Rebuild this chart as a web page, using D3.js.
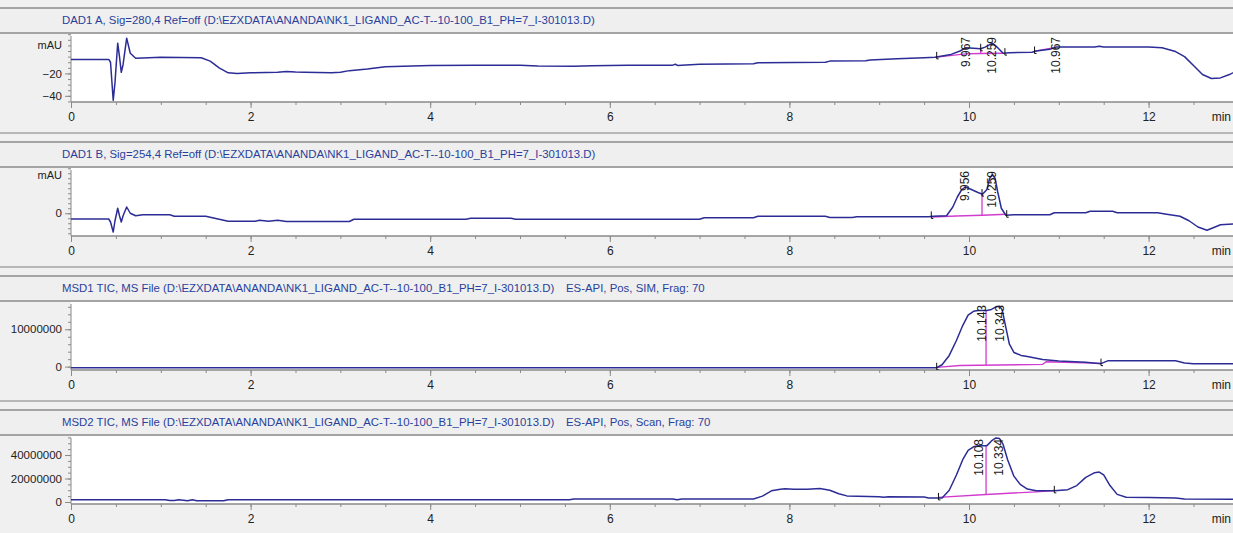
<!DOCTYPE html>
<html>
<head>
<meta charset="utf-8">
<script src="https://cdn.jsdelivr.net/npm/d3@7"></script>
<style>
  html, body { margin: 0; padding: 0; background: #f0f0f0; }
  svg { display: block; font-family: "Liberation Sans", Arial, sans-serif; }
</style>
</head>
<body>
<svg id="chart" width="1233" height="533"></svg>
<script>
// ---- Run information ----
const fileName = "D:\\EZXDATA\\ANANDA\\NK1_LIGAND_AC-T--10-100_B1_PH=7_I-301013.D";
const titles = [
  "DAD1 A, Sig=280,4 Ref=off (" + fileName + ")",
  "DAD1 B, Sig=254,4 Ref=off (" + fileName + ")",
  "MSD1 TIC, MS File (" + fileName + ")",
  "MSD2 TIC, MS File (" + fileName + ")"
];
const titleSuffixes = ["", "", "ES-API, Pos, SIM, Frag: 70", "ES-API, Pos, Scan, Frag: 70"];

// ---- Time axis (min) ----
const timeMajorTicks = [0, 2, 4, 6, 8, 10, 12];
const timeMinorStep = 0.5;

// ---- DAD1 A, 280 nm (mAU) ----
const dadATime = [0, 0.42, 0.44, 0.47, 0.49, 0.52, 0.54, 0.56, 0.58, 0.62, 0.66, 0.72, 0.8, 1.0, 1.45, 1.55, 1.65, 1.75, 1.85,
  2.0, 2.3, 2.4, 2.5, 2.6, 2.9, 3.0, 3.1, 3.3, 3.5, 4.0, 4.5, 5.0, 5.2, 5.6, 5.8, 6.2, 6.7, 6.73, 6.76, 6.8, 7.0, 7.6, 7.65,
  8.4, 8.45, 8.85, 8.9, 9.2, 9.5, 9.62, 9.8, 9.9, 9.967, 10.05, 10.13, 10.18, 10.26, 10.32, 10.38, 10.45, 10.7, 10.75, 10.9,
  10.97, 11.1, 11.4, 11.45, 11.5, 12.0, 12.15, 12.3, 12.4, 12.5, 12.6, 12.7, 12.8, 12.9, 13.0, 13.2];
const dadAValue = [-7.5, -7.5, -10, -44, -28, 7, -5, -19, -12, 11.5, -2, -6.5, -6.2, -5.6, -6.0, -9, -15, -19.5, -20,
  -19.5, -19, -18.3, -18.8, -19, -19.5, -19, -17.5, -16, -14, -13, -12.6, -12.6, -13.4, -13.6, -13.2, -12.8, -12.6, -11.8, -13, -12.6, -11.8, -11.4, -10.5,
  -10, -9, -8.6, -8, -7, -6, -5.5, -3, 0, 3, 2.5, 2, 3.5, 7, 3, -2, -1.5, -1, 0, 1.5,
  3.5, 3.5, 3.5, 4.2, 3.5, 3.5, 3, -0.5, -5, -13, -21, -24.5, -24, -21, -17, -14];
const dadABaseline = [[[9.64, -5.4], [9.96, -2.5], [10.13, -2.2], [10.38, -2.0]], [[10.73, 0.0], [10.97, 3.3]]];
const dadADrops = [10.13];
const dadAMarkers = [9.64, 10.13, 10.4, 10.73];
const dadAPeaks = [9.967, 10.259, 10.967];

// ---- DAD1 B, 254 nm (mAU) ----
const dadBTime = [0, 0.42, 0.44, 0.47, 0.49, 0.52, 0.54, 0.56, 0.58, 0.62, 0.66, 0.72, 0.8, 1.1, 1.15, 1.5, 1.6, 1.75, 2.05, 2.1, 2.2, 2.3, 2.4,
  3.1, 3.15, 4.4, 4.45, 4.9, 4.95, 7.0, 7.05, 7.6, 7.65, 8.4, 8.45, 8.7, 8.75, 9.55, 9.6, 9.75, 9.82, 9.87, 9.92, 9.96, 10.02, 10.1,
  10.15, 10.2, 10.23, 10.26, 10.29, 10.32, 10.36, 10.41, 10.5, 10.9, 10.95, 11.3, 11.35, 11.6, 11.65, 12.1, 12.2, 12.35, 12.45,
  12.55, 12.65, 12.72, 12.8, 13.0, 13.2];
const dadBValue = [-2.3, -2.3, -3.5, -7.5, -3, 2.0, -1, -3.5, -1, 2.5, 0, -1, -0.6, -0.6, -1.2, -1.2, -2, -3.2, -3.2, -2.8, -3.2, -2.8, -3.3,
  -3.3, -2.4, -2.4, -2.0, -2.0, -2.4, -2.4, -1.8, -1.8, -1.2, -1.2, -1.7, -1.7, -1.4, -1.4, -1.2, -1.0, 2.5, 6.5, 9.5, 10.5, 9.6, 8.3,
  7.6, 9.5, 14, 15.5, 14, 8.5, 2, -0.8, -0.6, -0.6, 0.2, 0.2, 0.8, 0.8, 0.2, 0.2, -0.4, -1.2, -3,
  -5.5, -6.8, -5.8, -4.6, -4.2, -4.0];
const dadBBaseline = [[[9.58, -1.5], [9.86, -1.1], [10.145, -0.8], [10.42, -0.4]]];
const dadBDrops = [10.145];
const dadBMarkers = [9.58, 10.145, 10.42];
const dadBPeaks = [9.956, 10.259];

// ---- MSD1 TIC, SIM (counts) ----
const msd1Time = [0, 9.64, 9.7, 9.78, 9.86, 9.93, 9.99, 10.05, 10.1, 10.2, 10.25, 10.3, 10.34, 10.37, 10.41, 10.45, 10.5, 10.58,
  10.65, 10.82, 11.0, 11.3, 11.47, 11.55, 12.3, 12.4, 12.5, 13.2];
const msd1Value = [-0.3e6, -0.3e6, 0.5e6, 3e6, 7e6, 11e6, 13.8e6, 14.8e6, 15.0e6, 15.0e6, 15.3e6, 16.0e6, 16.2e6, 15.2e6, 10.5e6, 6e6, 3.8e6, 3.0e6,
  2.7e6, 1.9e6, 1.5e6, 1.2e6, 0.8e6, 1.6e6, 1.6e6, 1.0e6, 0.75e6, 0.75e6];
const msd1Baseline = [[[9.64, -0.2e6], [9.9, 0.3e6], [10.82, 0.6e6], [10.86, 1.3e6], [11.47, 0.9e6]]];
const msd1Drops = [10.19];
const msd1Markers = [9.64, 11.47];
const msd1Peaks = [10.143, 10.343];

// ---- MSD2 TIC, Scan (counts) ----
const msd2Time = [0, 1.05, 1.1, 1.15, 1.2, 1.3, 1.35, 1.4, 1.7, 1.75, 5.55, 5.6, 6.7, 6.75, 6.8, 7.6, 7.7, 7.8, 7.9, 7.95, 8.05,
  8.2, 8.34, 8.45, 8.55, 8.64, 9.0, 9.05, 9.1, 9.5, 9.55, 9.7, 9.78, 9.86, 9.93, 9.99, 10.05, 10.1, 10.2, 10.25, 10.3, 10.34,
  10.38, 10.43, 10.5, 10.57, 10.65, 10.75, 10.95, 11.1, 11.2, 11.3, 11.4, 11.45, 11.5, 11.57, 11.65, 11.75, 12.0, 12.3, 12.4, 13.2];
const msd2Value = [2e6, 2e6, 1.2e6, 1.2e6, 2e6, 1.0e6, 2e6, 1e6, 1e6, 2e6, 2e6, 2.6e6, 2.6e6, 2.0e6, 2.6e6, 2.6e6, 5e6, 9.5e6, 10.8e6, 11.2e6, 10.8e6,
  10.9e6, 11.5e6, 10e6, 7e6, 5.2e6, 4.5e6, 4.0e6, 4.5e6, 4.3e6, 3.5e6, 3.5e6, 10e6, 23e6, 36e6, 44e6, 47e6, 48e6, 48e6, 52e6, 54.5e6, 54e6,
  49e6, 36e6, 22e6, 15e6, 11e6, 9.5e6, 9.5e6, 10.5e6, 14e6, 21e6, 25e6, 25.5e6, 23e6, 14e6, 6.5e6, 4e6, 3.8e6, 3.5e6, 2.5e6, 2.3e6];
const msd2Baseline = [[[9.66, 4.0e6], [10.19, 6.4e6], [10.75, 8.7e6], [10.95, 9.8e6]]];
const msd2Drops = [10.19];
const msd2Markers = [9.66, 10.95];
const msd2Peaks = [10.108, 10.334];

// ---- y-axis ticks per signal ----
const dadATicks = [-40, -20], dadAMinor = 5, dadAUnitAt = 5;
const dadBTicks = [0], dadBMinor = 2, dadBUnitAt = 15;
const msd1Ticks = [0, 10000000], msd1Minor = 2e6;
const msd2Ticks = [0, 20000000, 40000000], msd2Minor = 5e6;

// ---- layout ----
const W = 1233;
const plotLeft = 71, pxPerMin = 89.8;
const panelTops = [8, 142, 276, 410];
const headerH = 25, plotH = 68;

const traceColor = "#2c2c96";
const baseColor = "#d13ccf";
const frameColor = "#a4a4a4";
const axisColor = "#8a8a8a";
const textColor = "#222";
const titleColor = "#2a3f9c";

const panels = [
  { title: titles[0], suffix: titleSuffixes[0], t: dadATime, v: dadAValue, base: dadABaseline, drops: dadADrops, markers: dadAMarkers, peaks: dadAPeaks,
    domain: [-45.5, 15.2], ticks: dadATicks, minor: dadAMinor, unit: "mAU", unitAt: dadAUnitAt },
  { title: titles[1], suffix: titleSuffixes[1], t: dadBTime, v: dadBValue, base: dadBBaseline, drops: dadBDrops, markers: dadBMarkers, peaks: dadBPeaks,
    domain: [-9.1, 18.1], ticks: dadBTicks, minor: dadBMinor, unit: "mAU", unitAt: dadBUnitAt },
  { title: titles[2], suffix: titleSuffixes[2], t: msd1Time, v: msd1Value, base: msd1Baseline, drops: msd1Drops, markers: msd1Markers, peaks: msd1Peaks,
    domain: [-0.9e6, 17.3e6], ticks: msd1Ticks, minor: msd1Minor },
  { title: titles[3], suffix: titleSuffixes[3], t: msd2Time, v: msd2Value, base: msd2Baseline, drops: msd2Drops, markers: msd2Markers, peaks: msd2Peaks,
    domain: [-1.7e6, 56.2e6], ticks: msd2Ticks, minor: msd2Minor }
];

const svg = d3.select("#chart");
svg.append("rect").attr("width", W).attr("height", 533).attr("fill", "#f0f0f0");

const x = d3.scaleLinear().domain([0, 13.5]).range([plotLeft, plotLeft + 13.5 * pxPerMin]);
const minorTimes = d3.range(0, 13.5 + 1e-9, timeMinorStep);

function interp(ts, vs, t) {
  const i = d3.bisectLeft(ts, t);
  if (i <= 0) return vs[0];
  if (i >= ts.length) return vs[vs.length - 1];
  const f = (t - ts[i - 1]) / (ts[i] - ts[i - 1]);
  return vs[i - 1] + f * (vs[i] - vs[i - 1]);
}

panels.forEach((p, k) => {
  const y0 = panelTops[k];
  const plotTop = y0 + headerH + 1;
  const axisY = plotTop + plotH;
  const g = svg.append("g");

  // header band and frame lines
  g.append("rect").attr("x", 0).attr("y", y0).attr("width", W).attr("height", headerH).attr("fill", "#efefef");
  g.append("line").attr("x1", 0).attr("x2", W).attr("y1", y0).attr("y2", y0).attr("stroke", frameColor).attr("stroke-width", 2);
  g.append("line").attr("x1", 0).attr("x2", W).attr("y1", y0 + headerH).attr("y2", y0 + headerH).attr("stroke", frameColor).attr("stroke-width", 2);
  g.append("line").attr("x1", 0).attr("x2", W).attr("y1", y0 + 125).attr("y2", y0 + 125).attr("stroke", frameColor).attr("stroke-width", 1.5);

  g.append("text").attr("x", 62).attr("y", y0 + 12).attr("dy", "0.35em")
    .attr("fill", titleColor).attr("font-size", 11.4).text(p.title);
  if (p.suffix) {
    g.append("text").attr("x", 566).attr("y", y0 + 12).attr("dy", "0.35em")
      .attr("fill", titleColor).attr("font-size", 11.4).text(p.suffix);
  }

  // plot area
  g.append("rect").attr("x", plotLeft).attr("y", plotTop).attr("width", W - plotLeft).attr("height", plotH).attr("fill", "#fff");

  const y = d3.scaleLinear().domain(p.domain).range([axisY, plotTop]);

  // y axis
  const yMinorVals = d3.range(Math.ceil(p.domain[0] / p.minor) * p.minor, p.domain[1], p.minor);
  const yMinor = g.append("g").attr("transform", `translate(${plotLeft},0)`)
    .call(d3.axisLeft(y).tickValues(yMinorVals).tickSize(3).tickFormat(""));
  const yMajor = g.append("g").attr("transform", `translate(${plotLeft},0)`)
    .call(d3.axisLeft(y).tickValues(p.ticks).tickSize(6).tickPadding(3).tickFormat(d3.format("d")));
  [yMinor, yMajor].forEach(a => {
    a.select(".domain").remove();
    a.selectAll("line").attr("stroke", axisColor);
    a.selectAll("text").attr("fill", textColor).attr("font-size", 11.5).attr("font-family", "Liberation Sans, Arial, sans-serif");
  });
  g.append("line").attr("x1", plotLeft).attr("x2", plotLeft).attr("y1", plotTop + 2).attr("y2", axisY).attr("stroke", axisColor);
  if (p.unit) {
    g.append("text").attr("x", plotLeft - 9).attr("y", y(p.unitAt)).attr("dy", "0.32em")
      .attr("text-anchor", "end").attr("font-size", 11).attr("fill", textColor).text(p.unit);
  }

  // x axis
  const xMinor = g.append("g").attr("transform", `translate(0,${axisY})`)
    .call(d3.axisBottom(x).tickValues(minorTimes).tickSize(3).tickFormat(""));
  const xMajor = g.append("g").attr("transform", `translate(0,${axisY})`)
    .call(d3.axisBottom(x).tickValues(timeMajorTicks).tickSize(6).tickPadding(4).tickFormat(d3.format("d")));
  [xMinor, xMajor].forEach(a => {
    a.select(".domain").remove();
    a.selectAll("line").attr("stroke", axisColor);
    a.selectAll("text").attr("fill", textColor).attr("font-size", 12).attr("font-family", "Liberation Sans, Arial, sans-serif");
  });
  g.append("line").attr("x1", plotLeft).attr("x2", W).attr("y1", axisY).attr("y2", axisY).attr("stroke", axisColor).attr("stroke-width", 1.5);
  g.append("text").attr("x", W - 2).attr("y", axisY + 15).attr("dy", "0.35em").attr("text-anchor", "end")
    .attr("font-size", 12).attr("fill", textColor).text("min");

  // clipped drawing area
  const clipId = "clip" + k;
  svg.append("clipPath").attr("id", clipId).append("rect")
    .attr("x", plotLeft).attr("y", plotTop).attr("width", W - plotLeft).attr("height", plotH);
  const area = g.append("g").attr("clip-path", `url(#${clipId})`);

  const pts = p.t.map((t, i) => [t, p.v[i]]);
  const line = d3.line().x(d => x(d[0])).y(d => y(d[1]));

  // integration baselines
  p.base.forEach(seg => {
    area.append("path").attr("d", line(seg)).attr("fill", "none").attr("stroke", baseColor).attr("stroke-width", 1.3);
  });
  const baseAll = p.base.flat();
  const bT = baseAll.map(d => d[0]), bV = baseAll.map(d => d[1]);
  p.drops.forEach(t => {
    area.append("line").attr("x1", x(t)).attr("x2", x(t))
      .attr("y1", y(interp(p.t, p.v, t))).attr("y2", y(interp(bT, bV, t)))
      .attr("stroke", baseColor).attr("stroke-width", 1.3);
  });

  // signal trace
  area.append("path").attr("d", line(pts)).attr("fill", "none")
    .attr("stroke", traceColor).attr("stroke-width", 1.5).attr("stroke-linejoin", "round");

  // peak start/end markers
  p.markers.forEach(t => {
    const yy = y(interp(p.t, p.v, t));
    area.append("path").attr("d", `M${x(t)},${yy - 5}V${yy + 2}H${x(t) + 2}`)
      .attr("fill", "none").attr("stroke", "#111").attr("stroke-width", 1);
  });

  // retention-time labels
  p.peaks.forEach(t => {
    area.append("text")
      .attr("transform", `translate(${x(t)},${plotTop + 3}) rotate(-90)`)
      .attr("text-anchor", "end").attr("dy", "0.35em")
      .attr("font-size", 12).attr("fill", "#1a1a1a").text(d3.format(".3f")(t));
  });
});
</script>
</body>
</html>
